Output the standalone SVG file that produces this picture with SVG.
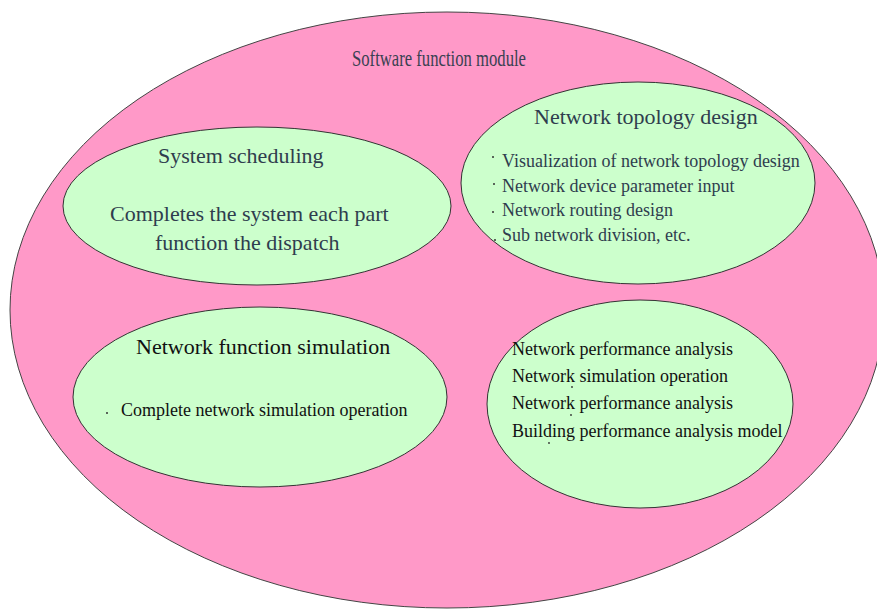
<svg xmlns="http://www.w3.org/2000/svg" width="877" height="609" viewBox="0 0 877 609">
<style>
.outer{fill:#FF99C8;stroke:#444;stroke-width:1}
.inner{fill:#CCFFCC;stroke:#333;stroke-width:1}
text{font-family:"Liberation Serif","Times New Roman",serif}
.t1{font-size:22px;fill:#2F3D4E}
.t2{font-size:18px;fill:#2F3D4E}
.k1{font-size:22px;fill:#111}
.k2{font-size:18px;fill:#111}
.dot{fill:#333}
</style>
<rect width="877" height="609" fill="#fff"/>
<g id="software-module">
<ellipse class="outer" cx="447" cy="310" rx="437" ry="298"/>
<text x="352" y="66" font-size="24" fill="#3A4152" textLength="174" lengthAdjust="spacingAndGlyphs">Software function module</text>
</g>
<g id="system-scheduling">
<ellipse class="inner" cx="257" cy="206" rx="194" ry="79"/>
<text class="t1" x="158" y="163">System scheduling</text>
<text class="t1" x="110" y="221">Completes the system each part</text>
<text class="t1" x="155" y="250">function the dispatch</text>
</g>
<g id="network-topology-design">
<ellipse class="inner" cx="638" cy="183" rx="177" ry="101"/>
<text class="t1" x="534" y="124">Network topology design</text>
<circle class="dot" cx="493" cy="157" r="1"/>
<text class="t2" x="502" y="167">Visualization of network topology design</text>
<circle class="dot" cx="494" cy="184" r="1"/>
<text class="t2" x="502" y="192">Network device parameter input</text>
<circle class="dot" cx="493" cy="212" r="1"/>
<text class="t2" x="502" y="216">Network routing design</text>
<circle class="dot" cx="495" cy="240" r="1"/>
<text class="t2" x="502" y="241">Sub network division, etc.</text>
</g>
<g id="network-function-simulation">
<ellipse class="inner" cx="260" cy="397" rx="187" ry="90"/>
<text class="k1" x="136" y="354">Network function simulation</text>
<circle class="dot" cx="107" cy="413" r="1"/>
<text class="k2" x="121" y="416">Complete network simulation operation</text>
</g>
<g id="network-performance-analysis">
<ellipse class="inner" cx="640" cy="404" rx="153" ry="104"/>
<text class="k2" x="512" y="355">Network performance analysis</text>
<text class="k2" x="512" y="382">Network simulation operation</text>
<circle class="dot" cx="572" cy="387" r="0.9"/>
<text class="k2" x="512" y="409">Network performance analysis</text>
<circle class="dot" cx="571" cy="415" r="0.9"/>
<text class="k2" x="512" y="437">Building performance analysis model</text>
<circle class="dot" cx="549" cy="443" r="0.9"/>
</g>
<g id="connectors"/>
</svg>
